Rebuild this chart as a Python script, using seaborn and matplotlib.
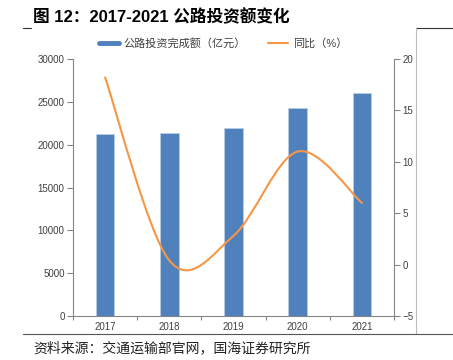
import numpy as np
import seaborn as sns
import matplotlib.pyplot as plt
from matplotlib.path import Path
from matplotlib.patches import PathPatch
from matplotlib.lines import Line2D

years = ['2017', '2018', '2019', '2020', '2021']
investment = [21253, 21335, 21895, 24312, 25995]  # 亿元
yoy = [18.2, 0.4, 2.8, 11.0, 6.0]  # %

title = '图 12：2017-2021 公路投资额变化'
source = '资料来源：交通运输部官网，国海证券研究所'
bar_label = '公路投资完成额（亿元）'
line_label = '同比（%）'

BLUE = '#4F81BD'
ORANGE = '#F79646'
AXIS = '#868686'
TEXT = '#404040'

sns.set_style('white')
plt.rcParams['font.family'] = ['Liberation Sans', 'Noto Sans CJK SC', 'DejaVu Sans']
plt.rcParams['axes.unicode_minus'] = True

W, H = 453, 360
fig = plt.figure(figsize=(W / 100, H / 100), dpi=100)
ax = fig.add_axes([73 / W, 1 - 316 / H, 321 / W, 257 / H])

# bars
sns.barplot(x=years, y=investment, color=BLUE, saturation=1, width=0.29,
            edgecolor='#B9CDE5', linewidth=0.6, ax=ax)
ax.set_xlim(-0.5, len(years) - 0.5)
ax.set_ylim(0, 30000)
ax.set_yticks(np.arange(0, 30001, 5000))
ax.set_xlabel('')
ax.set_ylabel('')

for s in ['top', 'right']:
    ax.spines[s].set_visible(False)
for s in ['left', 'bottom']:
    ax.spines[s].set_color(AXIS)
    ax.spines[s].set_linewidth(0.8)

ax.tick_params(axis='y', direction='out', length=4, width=0.8, color=AXIS,
               labelsize=7, labelcolor=TEXT, pad=2, left=True)
ax.tick_params(axis='x', which='major', length=0, labelsize=7, labelcolor=TEXT, pad=4)
ax.set_xticks(np.arange(-0.5, len(years), 1), minor=True)
ax.tick_params(axis='x', which='minor', direction='out', length=3, width=0.8,
               color=AXIS, bottom=True)

# yoy line on the secondary axis, smoothed like excel
ax2 = ax.twinx()
ax2.set_ylim(-5, 20)
ax2.set_yticks(np.arange(-5, 21, 5))
for s in ['top', 'left', 'bottom']:
    ax2.spines[s].set_visible(False)
ax2.spines['right'].set_color(AXIS)
ax2.spines['right'].set_linewidth(0.8)
ax2.tick_params(axis='y', direction='out', length=4, width=0.8, color=AXIS,
                labelsize=7, labelcolor=TEXT, pad=2, right=True)

pts = np.column_stack([np.arange(len(yoy)), yoy]).astype(float)
padded = np.vstack([pts[0], pts, pts[-1]])
verts = [pts[0]]
codes = [Path.MOVETO]
for i in range(len(pts) - 1):
    p0, p1, p2, p3 = padded[i], padded[i + 1], padded[i + 2], padded[i + 3]
    verts += [p1 + (p2 - p0) / 6, p2 - (p3 - p1) / 6, p2]
    codes += [Path.CURVE4] * 3
ax2.add_patch(PathPatch(Path(verts, codes), facecolor='none',
                        edgecolor=ORANGE, lw=1.5, capstyle='round'))

# legend
handles = [Line2D([], [], color=BLUE, lw=3.5), Line2D([], [], color=ORANGE, lw=1.5)]
fig.legend(handles, [bar_label, line_label], loc='center',
           bbox_to_anchor=(223 / W, 1 - 43 / H), ncol=2, frameon=False,
           fontsize=8, handlelength=1.8, handletextpad=0.4, columnspacing=2.0,
           labelcolor=TEXT)

# title, source and page rules
fig.text(33 / W, 1 - 17 / H, title, fontsize=12, fontweight='bold',
         va='center', ha='left', color='black')
fig.text(33 / W, 1 - 348 / H, source, fontsize=10, va='center', ha='left',
         family=['Noto Sans CJK SC', 'DejaVu Sans'], color='#222222')

fig.add_artist(Line2D([23 / W, 31 / W], [1 - 28 / H] * 2, color='#333333', lw=0.8))
fig.add_artist(Line2D([416 / W, 1], [1 - 28 / H] * 2, color='#333333', lw=0.8))
fig.add_artist(Line2D([416 / W] * 2, [1 - 28 / H, 1 - 334 / H], color='#BBBBBB', lw=0.8))
fig.add_artist(Line2D([23 / W, 1], [1 - 334 / H] * 2, color='#555555', lw=0.8))

fig.savefig('out.png', dpi=100)
